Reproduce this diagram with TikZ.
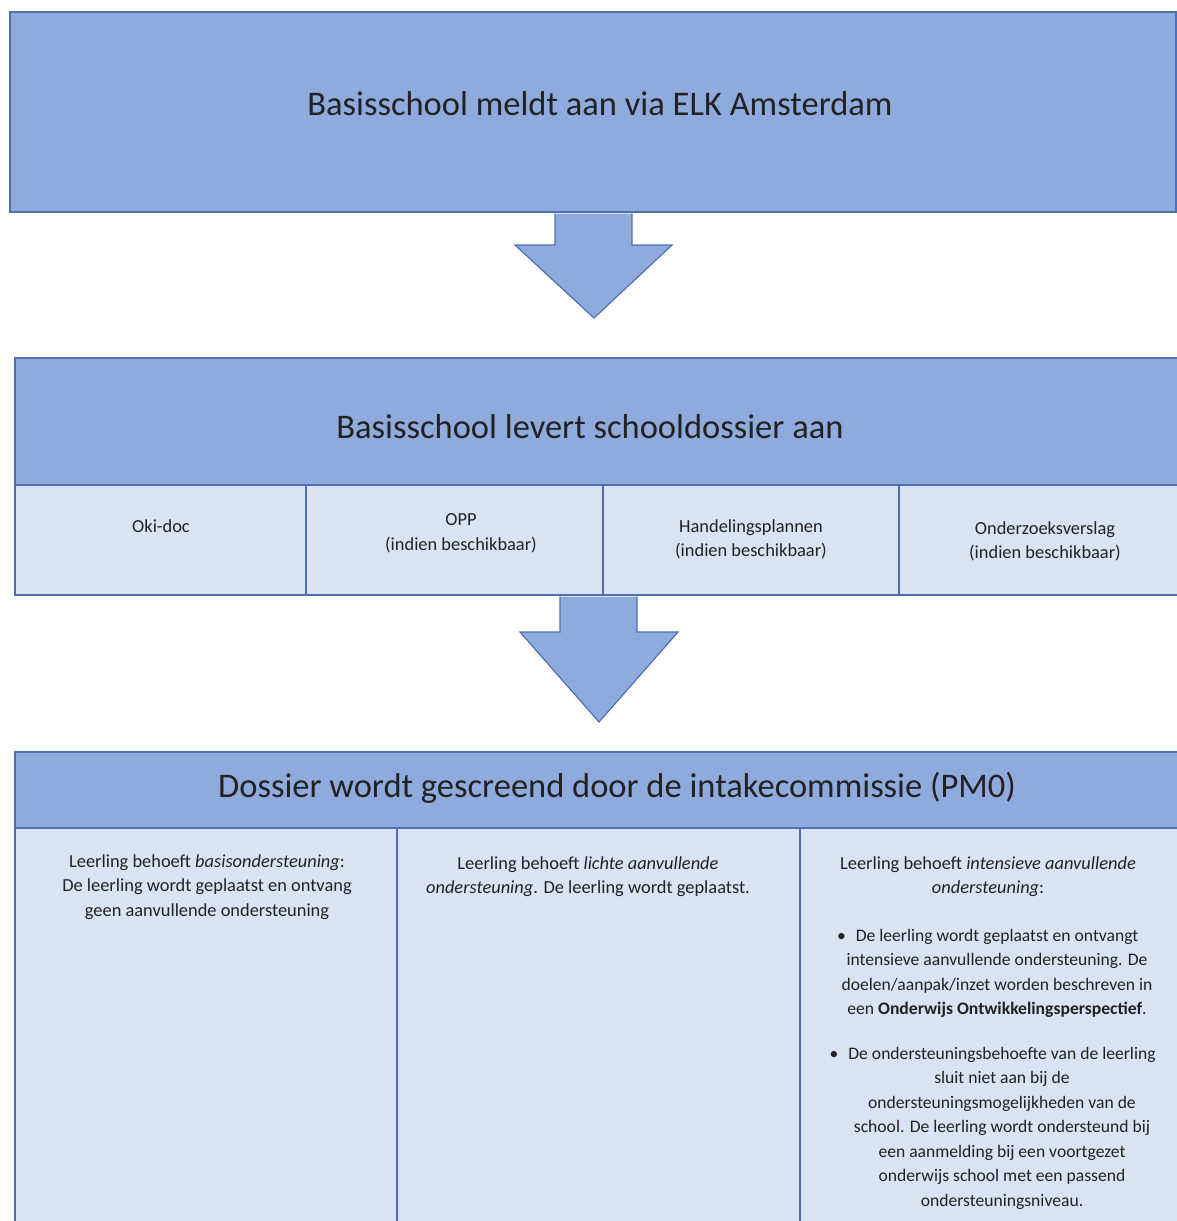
\documentclass[tikz,border=0pt]{standalone}
\usepackage{fontspec}
\setmainfont{Carlito}
\usetikzlibrary{calc}
\definecolor{hdrfill}{HTML}{8FAADC}
\definecolor{cellfill}{HTML}{DAE3F3}
\definecolor{edge}{HTML}{4F6FB3}
\definecolor{ink}{HTML}{222222}
\tikzset{
  hdrbox/.style={draw=edge, line width=2.5pt, fill=hdrfill, inner sep=0pt, outer sep=0pt},
  cellbox/.style={draw=edge, line width=2.5pt, fill=cellfill, inner sep=0pt, outer sep=0pt},
  bigtxt/.style={font=\fontsize{34.5}{40}\selectfont, text=ink, inner sep=0pt},
  smalltxt/.style={font=\fontsize{18.4}{24.5}\selectfont, text=ink, inner sep=0pt, align=center},
  bullettxt/.style={font=\fontsize{17.6}{24.5}\selectfont, text=ink, inner sep=0pt, align=center},
  flowarrow/.style={draw=edge, line width=1.2pt, fill=hdrfill, line join=miter}
}
\begin{document}
\begin{tikzpicture}[x=1pt,y=-1pt]
\clip (0,0) rectangle (1177,1221);
\fill[white] (0,0) rectangle (1177,1221);

% Box 1
\node[hdrbox, minimum width=1166pt, minimum height=200pt] (h1) at (593,112) {};
\node[bigtxt] (t1) at (600,104) {Basisschool meldt aan via ELK Amsterdam};

% Box 2
\node[hdrbox, minimum width=1166pt, minimum height=127pt] (h2) at (598,421.5) {};
\node[bigtxt] (t2) at (590,427) {Basisschool levert schooldossier aan};
\node[cellbox, minimum width=291pt, minimum height=110pt] (c21) at (160.5,540) {};
\node[cellbox, minimum width=297pt, minimum height=110pt] (c22) at (454.5,540) {};
\node[cellbox, minimum width=296pt, minimum height=110pt] (c23) at (751,540) {};
\node[cellbox, minimum width=282pt, minimum height=110pt] (c24) at (1040,540) {};
\node[smalltxt, anchor=north] (t21) at (161,519.5) {Oki-doc};
\node[smalltxt, anchor=north] (t22) at (461,513.5) {OPP\\(indien beschikbaar)};
\node[smalltxt, anchor=north] (t23) at (751,519.5) {Handelingsplannen\\(indien beschikbaar)};
\node[smalltxt, anchor=north] (t24) at (1045,521.5) {Onderzoeksverslag\\(indien beschikbaar)};

% Box 3
\node[hdrbox, minimum width=1166pt, minimum height=76pt] (h3) at (598,790) {};
\node[bigtxt] (t3) at (617,788) {Dossier wordt gescreend door de intakecommissie (PM0)};
\node[cellbox, minimum width=382pt, minimum height=420pt, anchor=north west] (c31) at (15,828) {};
\node[cellbox, minimum width=403pt, minimum height=420pt, anchor=north west] (c32) at (397,828) {};
\node[cellbox, minimum width=380pt, minimum height=420pt, anchor=north west] (c33) at (800,828) {};

\node[smalltxt, anchor=north] (t31) at (207,854.5) {Leerling behoeft \textit{basisondersteuning}:\\De leerling wordt geplaatst en ontvang\\geen aanvullende ondersteuning};
\node[smalltxt, anchor=north] (t32) at (588,856.5) {Leerling behoeft \textit{lichte aanvullende}\\\textit{ondersteuning}. De leerling wordt geplaatst.};
\node[smalltxt, anchor=north] (t33) at (988,856.5) {Leerling behoeft \textit{intensieve aanvullende}\\\textit{ondersteuning}:};
\node[bullettxt, anchor=north] (t34) at (997,929) {\llap{•\hspace{10pt}}De leerling wordt geplaatst en ontvangt\\intensieve aanvullende ondersteuning. De\\doelen/aanpak/inzet worden beschreven in\\een \textbf{Onderwijs Ontwikkelingsperspectief}.};
\node[bullettxt, anchor=north] (t35) at (1002,1047) {\llap{•\hspace{10pt}}De ondersteuningsbehoefte van de leerling\\sluit niet aan bij de\\ondersteuningsmogelijkheden van de\\school. De leerling wordt ondersteund bij\\een aanmelding bij een voortgezet\\onderwijs school met een passend\\ondersteuningsniveau.};

% Arrow 1
\coordinate (a1) at (594,318);
\draw[flowarrow] (555,213.5) -- (555,245) -- (515,245) -- (a1) -- (672,245) -- (632,245) -- (632,213.5);
% Arrow 2
\coordinate (a2) at (599,722);
\draw[flowarrow] (560,596.5) -- (560,632) -- (520,632) -- (a2) -- (678,632) -- (637,632) -- (637,596.5);
\end{tikzpicture}
\end{document}
